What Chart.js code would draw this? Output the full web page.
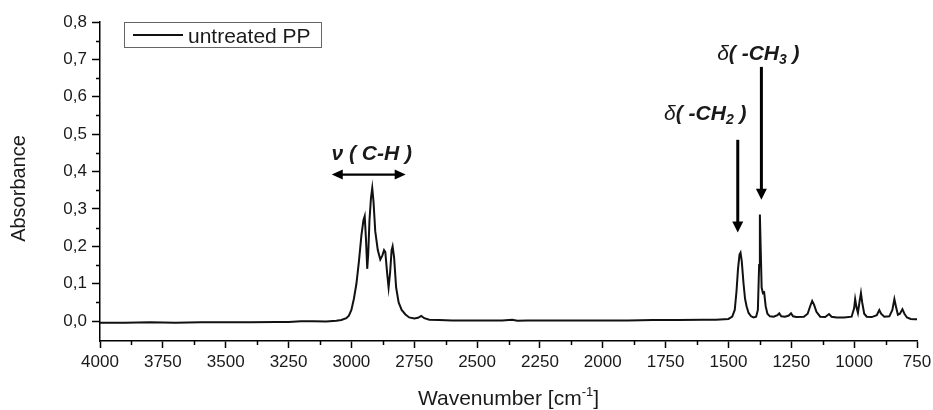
<!DOCTYPE html>
<html>
<head>
<meta charset="utf-8">
<script src="https://cdn.jsdelivr.net/npm/chart.js@4.4.1/dist/chart.umd.min.js"></script>
<style>
  html, body { margin: 0; padding: 0; background: #fff; }
  #wrap { width: 933px; height: 410px; }
</style>
</head>
<body>
<div id="wrap"><canvas id="ftirChart" width="933" height="410"></canvas></div>
<script>
// spectrum (wavenumber in cm-1, absorbance)
const wavenumbers = [
  4000, 3900, 3800, 3700, 3600, 3500, 3400, 3300, 3250, 3200, 3150, 3100, 3060, 3040, 3020, 3010,
  3000, 2990, 2980, 2970, 2960, 2952, 2947, 2942, 2937, 2933, 2928, 2922, 2917, 2912, 2905, 2895,
  2885, 2877, 2870, 2865, 2858, 2852, 2846, 2840, 2836, 2830, 2822, 2812, 2800, 2785, 2770, 2750,
  2735, 2722, 2710, 2690, 2650, 2600, 2500, 2400, 2360, 2340, 2300, 2200, 2100, 2000, 1900, 1800,
  1700, 1600, 1550, 1500, 1485, 1475, 1468, 1462, 1456, 1452, 1447, 1440, 1434, 1428, 1420, 1410,
  1400, 1390, 1383, 1378, 1375, 1372, 1368, 1363, 1358, 1352, 1345, 1335, 1320, 1305, 1298, 1290,
  1275, 1260, 1251, 1243, 1230, 1200, 1185, 1175, 1167, 1160, 1150, 1135, 1115, 1100, 1090, 1070,
  1040, 1010, 1000, 996, 990, 985, 979, 973, 968, 960, 950, 930, 910, 900, 893, 880,
  860, 848, 840, 834, 826, 818, 808, 800, 790, 775, 760, 750
];
const absorbance = [
  -0.004, -0.004, -0.003, -0.004, -0.003, -0.003, -0.003, -0.002, -0.002, 0.000, 0.000, -0.001, 0.001, 0.003, 0.008, 0.015,
  0.030, 0.060, 0.100, 0.160, 0.230, 0.270, 0.281, 0.220, 0.140, 0.180, 0.270, 0.330, 0.356, 0.320, 0.240, 0.190,
  0.165, 0.175, 0.190, 0.185, 0.130, 0.090, 0.130, 0.190, 0.200, 0.170, 0.090, 0.050, 0.030, 0.018, 0.010, 0.007,
  0.009, 0.014, 0.008, 0.004, 0.003, 0.002, 0.002, 0.002, 0.004, 0.001, 0.002, 0.002, 0.002, 0.002, 0.002, 0.003,
  0.003, 0.004, 0.004, 0.006, 0.012, 0.030, 0.080, 0.140, 0.178, 0.183, 0.160, 0.100, 0.060, 0.040, 0.022, 0.013,
  0.010, 0.012, 0.030, 0.150, 0.285, 0.200, 0.090, 0.075, 0.077, 0.040, 0.020, 0.013, 0.012, 0.016, 0.021, 0.013,
  0.012, 0.015, 0.021, 0.013, 0.011, 0.012, 0.020, 0.040, 0.054, 0.045, 0.025, 0.012, 0.011, 0.019, 0.012, 0.010,
  0.010, 0.012, 0.035, 0.059, 0.035, 0.022, 0.050, 0.075, 0.050, 0.020, 0.012, 0.011, 0.016, 0.030, 0.020, 0.012,
  0.013, 0.030, 0.059, 0.040, 0.017, 0.020, 0.032, 0.020, 0.010, 0.006, 0.005, 0.005
];
const seriesLabel = 'untreated PP';
const xTicks = [4000, 3750, 3500, 3250, 3000, 2750, 2500, 2250, 2000, 1750, 1500, 1250, 1000, 750];
const xMinorTicks = [3875, 3625, 3375, 3125, 2875, 2625, 2375, 2125, 1875, 1625, 1375, 1125, 875];
const yTicks = [0, 0.1, 0.2, 0.3, 0.4, 0.5, 0.6, 0.7, 0.8];
const yMinorTicks = [0.05, 0.15, 0.25, 0.35, 0.45, 0.55, 0.65, 0.75];

const FONT = '"Liberation Sans", Arial, sans-serif';
const INK = '#1a1a1a';

function arrowHead(ctx, x, y, angle, len, half) {
  ctx.save();
  ctx.translate(x, y);
  ctx.rotate(angle);
  ctx.beginPath();
  ctx.moveTo(0, 0);
  ctx.lineTo(-len, -half);
  ctx.lineTo(-len, half);
  ctx.closePath();
  ctx.fill();
  ctx.restore();
}

// draw a row of text pieces centred on cx
function richText(ctx, parts, cx, baseline) {
  let total = 0;
  parts.forEach(p => { ctx.font = p.font; total += ctx.measureText(p.t).width; });
  let x = cx - total / 2;
  ctx.textAlign = 'left';
  ctx.textBaseline = 'alphabetic';
  parts.forEach(p => {
    ctx.font = p.font;
    ctx.fillText(p.t, x, baseline + (p.dy || 0));
    x += ctx.measureText(p.t).width;
  });
}

const decorations = {
  id: 'decorations',
  afterDraw(chart) {
    const { ctx, chartArea, scales: { x, y } } = chart;
    ctx.save();
    ctx.fillStyle = INK;
    ctx.strokeStyle = '#000';

    // minor ticks
    ctx.lineWidth = 1.5;
    ctx.beginPath();
    xMinorTicks.forEach(v => {
      const px = Math.round(x.getPixelForValue(v)) + 0.5;
      ctx.moveTo(px, chartArea.bottom);
      ctx.lineTo(px, chartArea.bottom + 4);
    });
    yMinorTicks.forEach(v => {
      const py = Math.round(y.getPixelForValue(v)) + 0.5;
      ctx.moveTo(chartArea.left, py);
      ctx.lineTo(chartArea.left - 4, py);
    });
    ctx.stroke();

    // axis titles
    ctx.save();
    ctx.translate(25, 188.5);
    ctx.rotate(-Math.PI / 2);
    ctx.font = '20px ' + FONT;
    ctx.textAlign = 'center';
    ctx.textBaseline = 'alphabetic';
    ctx.fillText('Absorbance', 0, 0);
    ctx.restore();
    const big = '21px ' + FONT, sup = '13px ' + FONT;
    richText(ctx, [{ t: 'Wavenumber [cm', font: big }, { t: '-1', font: sup, dy: -9 }, { t: ']', font: big }],
      (chartArea.left + chartArea.right) / 2, 405);

    // legend
    const ds = chart.data.datasets[0];
    ctx.lineWidth = 1;
    ctx.strokeStyle = '#666';
    ctx.strokeRect(chartArea.left + 24.5, chartArea.top + 0.5, 197, 25);
    ctx.strokeStyle = ds.borderColor;
    ctx.lineWidth = 1.8;
    ctx.beginPath();
    ctx.moveTo(chartArea.left + 33, chartArea.top + 13);
    ctx.lineTo(chartArea.left + 83, chartArea.top + 13);
    ctx.stroke();
    ctx.font = '21px ' + FONT;
    ctx.textAlign = 'left';
    ctx.fillText(ds.label, chartArea.left + 88, chartArea.top + 20.5);

    // band annotations
    const bi = 'italic bold 21px ' + FONT, it = 'italic 21px ' + FONT, sub = 'italic bold 14px ' + FONT;
    richText(ctx, [{ t: '\u03bd', font: bi }, { t: ' ( C-H )', font: bi }],
      x.getPixelForValue(2919), y.getPixelForValue(0.432));
    richText(ctx, [{ t: '\u03b4', font: it }, { t: '( -CH', font: bi }, { t: '2', font: sub, dy: 4 }, { t: ' )', font: bi }],
      x.getPixelForValue(1592), y.getPixelForValue(0.537));
    richText(ctx, [{ t: '\u03b4', font: it }, { t: '( -CH', font: bi }, { t: '3', font: sub, dy: 4 }, { t: ' )', font: bi }],
      x.getPixelForValue(1381), y.getPixelForValue(0.699));

    ctx.strokeStyle = '#000';
    ctx.fillStyle = '#000';
    // double arrow over C-H stretch
    const ay = y.getPixelForValue(0.392);
    const ax1 = x.getPixelForValue(3078), ax2 = x.getPixelForValue(2784);
    ctx.lineWidth = 2.2;
    ctx.beginPath();
    ctx.moveTo(ax1 + 8, ay);
    ctx.lineTo(ax2 - 8, ay);
    ctx.stroke();
    arrowHead(ctx, ax1, ay, Math.PI, 11, 5);
    arrowHead(ctx, ax2, ay, 0, 11, 5);

    // vertical arrows for CH2 / CH3 bending
    [[1463, 0.485, 0.237], [1369, 0.68, 0.325]].forEach(([w, top, tip]) => {
      const px = x.getPixelForValue(w);
      const y1 = y.getPixelForValue(top), y2 = y.getPixelForValue(tip);
      ctx.lineWidth = 3;
      ctx.beginPath();
      ctx.moveTo(px, y1);
      ctx.lineTo(px, y2 - 8);
      ctx.stroke();
      arrowHead(ctx, px, y2, Math.PI / 2, 11, 5.5);
    });
    ctx.restore();
  }
};

const ctx = document.getElementById('ftirChart').getContext('2d');
const ftirChart = new Chart(ctx, {
  type: 'scatter',
  data: {
    datasets: [{
      label: seriesLabel,
      data: wavenumbers.map((w, i) => ({ x: w, y: absorbance[i] })),
      showLine: true,
      borderColor: '#111',
      borderWidth: 2,
      pointRadius: 0,
      tension: 0
    }]
  },
  options: {
    responsive: false,
    animation: false,
    layout: { padding: { top: 22, right: 16, left: 0, bottom: 0 } },
    plugins: {
      legend: { display: false },
      tooltip: { enabled: false }
    },
    scales: {
      x: {
        type: 'linear',
        reverse: true,
        min: 750,
        max: 4000,
        afterBuildTicks: s => { s.ticks = xTicks.map(v => ({ value: v })); },
        afterFit: s => { s.height = 69; s.paddingLeft = 0; s.paddingRight = 0; },
        grid: { drawOnChartArea: false, drawTicks: true, tickLength: 7, tickColor: '#000', tickWidth: 1.5 },
        border: { color: '#000', width: 1.5 },
        ticks: {
          color: INK,
          font: { family: FONT, size: 17 },
          padding: 4,
          maxRotation: 0,
          autoSkip: false,
          callback: v => String(v)
        }
      },
      y: {
        min: -0.053,
        max: 0.8,
        afterBuildTicks: s => { s.ticks = yTicks.map(v => ({ value: v })); },
        afterFit: s => { s.width = 100; },
        grid: { drawOnChartArea: false, drawTicks: true, tickLength: 8, tickColor: '#000', tickWidth: 1.5 },
        border: { color: '#000', width: 1.5 },
        ticks: {
          color: INK,
          font: { family: FONT, size: 17 },
          padding: 5,
          callback: v => v.toFixed(1).replace('.', ',')
        }
      }
    }
  },
  plugins: [decorations]
});
</script>
</body>
</html>
